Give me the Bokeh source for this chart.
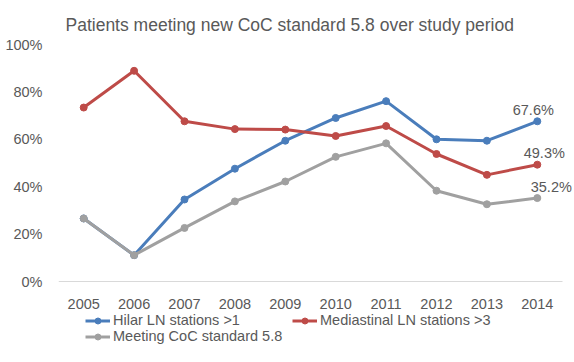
from bokeh.plotting import figure
from bokeh.models import (ColumnDataSource, FixedTicker, NumeralTickFormatter,
                          Range1d, Legend, LegendItem, LabelSet)
from bokeh.embed import file_html
from bokeh.resources import INLINE
from bokeh.core.properties import value

years = [2005, 2006, 2007, 2008, 2009, 2010, 2011, 2012, 2013, 2014]
hilar = [26.6, 11.1, 34.6, 47.6, 59.4, 69.0, 76.1, 60.0, 59.4, 67.6]
mediastinal = [73.4, 88.9, 67.6, 64.3, 64.1, 61.4, 65.6, 53.8, 45.0, 49.3]
meeting = [26.6, 11.1, 22.6, 33.8, 42.2, 52.6, 58.3, 38.3, 32.6, 35.2]
series_names = ["Hilar LN stations >1", "Mediastinal LN stations >3",
                "Meeting CoC standard 5.8"]
y_ticks = [0, 0.2, 0.4, 0.6, 0.8, 1.0]

FONT = "Liberation Sans"
TXT = "#595959"
colors = ["#4A7DBB", "#BE4B48", "#A0A0A0"]

# The frame covers the area under the axis too (room for the legend),
# the x axis is pinned at 0%.
x_start = years[0] - 0.5
x_end = years[-1] + 0.5 + 12 / 50.4
y_start = -81 / 237
y_end = 1.0

p = figure(width=574, height=362, frame_width=516, frame_height=318,
           min_border_left=58, min_border_right=0, min_border_top=44,
           min_border_bottom=0, output_backend="svg", toolbar_location=None,
           x_range=Range1d(x_start, x_end), y_range=Range1d(y_start, y_end))

p.title.text = "Patients meeting new CoC standard 5.8 over study period"
p.title.align = "left"
p.title.text_font = FONT
p.title.text_font_size = "17.5px"
p.title.text_font_style = "normal"
p.title.text_color = TXT
p.title.offset = 7
p.title.standoff = 19

p.outline_line_color = None
p.background_fill_color = "white"
p.border_fill_color = "white"
p.xgrid.grid_line_color = None
p.ygrid.grid_line_color = None

p.xaxis.fixed_location = 0
p.xaxis.ticker = FixedTicker(ticks=years)
p.xaxis.axis_line_color = None
p.xaxis.major_tick_line_color = None
p.xaxis.minor_tick_line_color = None
p.xaxis.major_label_standoff = 11
p.xaxis.major_label_text_font = FONT
p.xaxis.major_label_text_font_size = "14.5px"
p.xaxis.major_label_text_color = TXT

p.yaxis.ticker = FixedTicker(ticks=y_ticks)
p.yaxis.formatter = NumeralTickFormatter(format="0%")
p.yaxis.axis_line_color = None
p.yaxis.major_tick_line_color = None
p.yaxis.minor_tick_line_color = None
p.yaxis.major_label_standoff = 10
p.yaxis.major_label_text_font = FONT
p.yaxis.major_label_text_font_size = "14.5px"
p.yaxis.major_label_text_color = TXT

# category axis baseline (0%)
p.segment(x0=[years[0] - 0.5], y0=[0], x1=[years[-1] + 0.5], y1=[0],
          line_color="#D9D9D9", line_width=1)

items = []
all_series = [hilar, mediastinal, meeting]
for name, vals, col in zip(series_names, all_series, colors):
    src = ColumnDataSource(dict(x=years, y=[v / 100 for v in vals]))
    r = p.line("x", "y", source=src, line_color=col, line_width=3)
    c = p.scatter("x", "y", source=src, size=7, fill_color=col, line_color=col)
    items.append(LegendItem(label=name, renderers=[r, c]))

label_offsets = [(-4, 3), (7, 4), (14, 3)]
for vals, (dx, dy) in zip(all_series, label_offsets):
    lsrc = ColumnDataSource(dict(x=[years[-1]], y=[vals[-1] / 100],
                                 t=["%.1f%%" % vals[-1]]))
    p.add_layout(LabelSet(x="x", y="y", text="t", source=lsrc,
                          x_offset=dx, y_offset=dy, text_align="center",
                          text_baseline="bottom", text_font=value(FONT),
                          text_font_size=value("14.5px"), text_color=TXT))

# legend fills column by column: put items so rows read
# [Hilar, Mediastinal] / [Meeting]
legend_items = [items[0], items[2], items[1]]
legend = Legend(items=legend_items, ncols=2, location=(27, 18),
                label_text_font=FONT, label_text_font_size="14.5px",
                label_text_color=TXT, glyph_width=25, glyph_height=15,
                label_height=15, label_width=179, label_standoff=3,
                spacing=0, padding=0, margin=0, border_line_color=None,
                background_fill_alpha=0)
p.add_layout(legend, "center")

open("out.html", "w").write(file_html(p, INLINE))
